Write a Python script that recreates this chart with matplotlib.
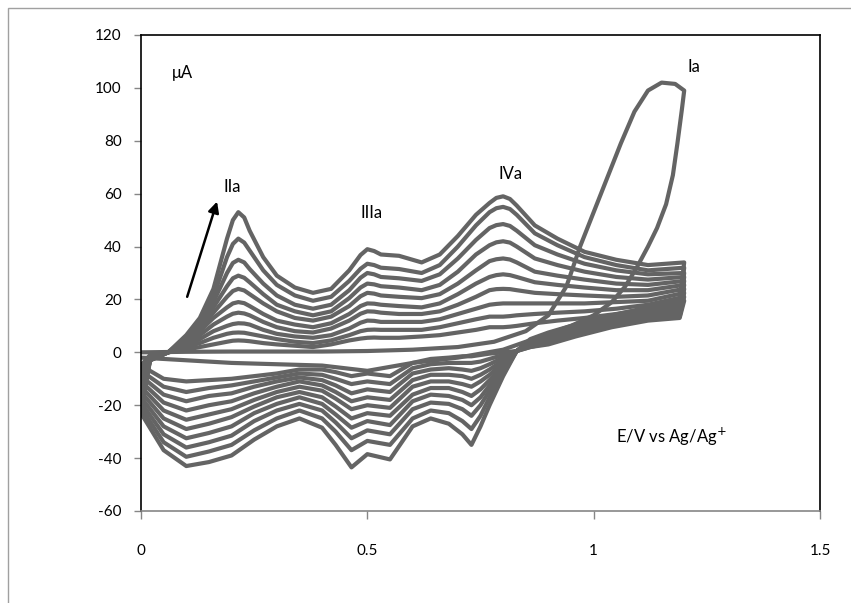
import matplotlib
matplotlib.use("Agg")
import matplotlib.pyplot as plt
from matplotlib.patches import Rectangle

plt.rcParams['font.family'] = ['Lato', 'DejaVu Sans']
plt.rcParams['axes.unicode_minus'] = False

# ---------------- data ----------------
# potential grid of the anodic (forward) scans, V
E_anodic = [0.00, 0.02, 0.06, 0.10, 0.13, 0.16, 0.19, 0.203, 0.215, 0.228, 0.24,
            0.27, 0.30, 0.34, 0.38, 0.42, 0.46, 0.485, 0.50, 0.515, 0.53, 0.57,
            0.62, 0.66, 0.70, 0.74, 0.77, 0.785, 0.80, 0.815, 0.83, 0.87, 0.92,
            0.98, 1.05, 1.12, 1.20]
# potential grid of the cathodic (reverse) scans, V
E_cathodic = [1.20, 1.19, 1.12, 1.04, 0.96, 0.90, 0.86, 0.83, 0.80, 0.77, 0.75,
              0.73, 0.71, 0.68, 0.64, 0.60, 0.55, 0.50, 0.465, 0.43, 0.40, 0.35,
              0.30, 0.25, 0.20, 0.15, 0.10, 0.05, 0.00]

# anodic currents (uA), smallest cycle first
anodic_c2 = [-5, -1, 0, 1, 2, 3, 4, 4.4, 4.5, 4.4, 4.2, 3.5, 3, 2.5, 2, 3, 4.5, 5.2, 5.5, 5.6, 5.5, 5.5, 6, 6.5, 7.5, 8.5, 9.5, 9.5, 9.5, 9.7, 10, 11, 12, 13, 14.5, 16.5, 19.5]
anodic_c3 = [-7, -1.5, 0, 2, 3.5, 5.5, 7, 7.4, 7.5, 7.4, 7, 6, 5, 4, 3.5, 4.5, 6.5, 8, 8.5, 8.6, 8.5, 8.5, 8.5, 9.5, 11, 12.5, 13.5, 13.5, 13.5, 13.7, 14, 14.5, 15, 15.5, 16.5, 18, 21]
anodic_c4 = [-9, -2, 0, 2.5, 5, 8, 10, 10.7, 11, 10.9, 10.5, 8.5, 7, 6, 5.5, 6.5, 9, 11.2, 12, 11.9, 11.5, 11.5, 11.5, 12.5, 14.5, 16.5, 18, 18.3, 18.5, 18.5, 18.5, 18.5, 18.5, 18.5, 19, 19.5, 22.5]
anodic_c5 = [-11, -2, 0, 3, 6.5, 10.5, 13.5, 14.6, 15, 14.7, 14, 11.5, 9.5, 8, 7.5, 9, 12, 14.6, 15.5, 15.4, 15, 14.5, 14.5, 15.5, 18, 21, 23.5, 23.9, 24, 23.9, 23.5, 22.5, 22, 21.5, 21, 21.5, 24]
anodic_c6 = [-13, -2.5, 0, 3.5, 8, 13, 17, 18.5, 19, 18.6, 17.5, 14.5, 12, 10.5, 9.5, 11, 14.5, 17.5, 18.5, 18.4, 18, 17.5, 17, 18.5, 22, 26, 28.5, 29.2, 29.5, 29.2, 28.5, 26.5, 25.5, 24.5, 23.5, 23.5, 25.5]
anodic_c7 = [-15, -2.5, 0, 4, 9, 15, 21, 23.2, 24, 23.4, 22, 18.5, 15.5, 13, 12, 13.5, 17.5, 21.2, 22.5, 22.2, 21.5, 21, 20.5, 22, 26, 31, 34.5, 35.2, 35.5, 35.1, 34, 30.5, 29, 27.5, 26, 25.5, 27]
anodic_c8 = [-17, -3, 0, 4.5, 10, 17, 25, 28, 29, 28.2, 26.5, 22, 18, 15.5, 14, 15.5, 20.5, 24.5, 26, 25.7, 25, 24.5, 23.5, 25.5, 30.5, 37, 40.5, 41.6, 42, 41.5, 40, 35.5, 33, 30.5, 28.5, 27.5, 28.5]
anodic_c9 = [-19, -3, 0, 5, 11, 19, 30, 33.8, 35, 34, 31.5, 26, 21.5, 18, 16.5, 18, 23.5, 28.2, 30, 29.5, 28.5, 28, 27, 29.5, 35.5, 42.5, 47, 48.1, 48.5, 47.8, 46, 40.5, 37, 33.5, 31, 29.5, 30]
anodic_c10 = [-21, -3, 0, 5.5, 12, 21, 36, 41, 43, 41.5, 38.5, 31, 25.5, 21.5, 19.5, 21, 27, 31.6, 33.5, 33, 32, 31.5, 30, 33, 40, 48, 53, 54.5, 55, 54.2, 52, 45, 40.5, 36, 33, 31, 32]
anodic_c11 = [-23, -3, 0, 6.5, 13, 24, 43, 50, 53, 51, 46, 36, 29, 24.5, 22.5, 24, 31, 36.8, 39, 38.3, 37, 36.5, 34, 37, 44, 52, 56.5, 58.4, 59, 58, 55.5, 48, 43, 38, 35, 33, 34]

# cathodic currents (uA), smallest cycle first
cathodic_c2 = [19.5, 13, 12, 9.5, 6, 3, 2, 0.5, 0, -0.5, -1, -1.5, -1.5, -2, -2.5, -4, -9, -8, -9, -7.5, -6.5, -6.5, -8, -9, -10, -10.5, -11, -10, -5]
cathodic_c3 = [21, 13.5, 12.5, 10, 6.5, 3.5, 2, 0.5, -1, -2.5, -3.5, -4, -4, -4, -4.5, -6, -12, -11, -12, -10, -8.5, -8, -9.5, -11, -12.5, -13.5, -15, -13, -7]
cathodic_c4 = [22.5, 14, 13, 10.5, 7, 4, 2.5, 0.5, -2, -4.5, -6, -7, -6.5, -6, -6.5, -8, -15, -14, -15.5, -12.5, -10.5, -9.5, -11, -13, -15.5, -16.5, -18.5, -16, -9]
cathodic_c5 = [24, 14.5, 13.5, 11, 7.5, 4.5, 3, 0.5, -3, -6.5, -8.5, -10, -9, -8.5, -8.5, -10.5, -18, -17, -18.5, -15, -12.5, -11, -13, -15.5, -18.5, -20, -22, -19, -11]
cathodic_c6 = [25.5, 15, 14, 11.5, 8, 5, 3, 0.5, -4, -8.5, -11, -13, -12, -11, -11, -13, -21, -20, -21.5, -17.5, -14.5, -13, -15, -18, -21.5, -23.5, -25.5, -22, -13]
cathodic_c7 = [27, 16, 14.5, 12, 8.5, 5.5, 3.5, 0.5, -5, -10.5, -14, -16.5, -15, -13.5, -13.5, -16, -24, -23, -25, -20.5, -17, -15, -17, -20.5, -24.5, -27, -29, -25, -15]
cathodic_c8 = [28.5, 17, 15, 12.5, 9, 6, 4, 0.5, -6, -12.5, -17, -20, -18, -16.5, -16, -18.5, -27.5, -26, -28.5, -23.5, -19.5, -17, -19.5, -23, -28, -30.5, -32.5, -28, -17]
cathodic_c9 = [30, 18, 15.5, 13, 9.5, 6.5, 4, 0.5, -7, -14.5, -20, -24, -21.5, -19.5, -19, -21.5, -31, -29.5, -32.5, -26.5, -22, -19.5, -22, -26, -31.5, -34, -36, -31, -19]
cathodic_c10 = [32, 19, 16, 13.5, 10, 7, 4.5, 0.5, -8, -17, -24, -29, -26, -23, -22, -25, -35, -33.5, -37, -30, -25, -22, -25, -29.5, -35, -37.5, -39.5, -34, -21]
cathodic_c11 = [34, 20, 17, 14, 10.5, 7.5, 5, 0.5, -9, -20, -28, -35, -31, -27, -25, -28, -40.5, -38.5, -43.5, -35, -28.5, -25, -28, -33, -39, -41.5, -43, -37, -23]

# first scan (peak Ia)
E_first_anodic = [0.0, 0.1, 0.2, 0.3, 0.4, 0.5, 0.6, 0.7, 0.78, 0.85, 0.9, 0.94, 0.97,
                  1.0, 1.03, 1.06, 1.09, 1.12, 1.15, 1.18, 1.2]
I_first_anodic = [0, 0.2, 0.3, 0.3, 0.3, 0.5, 1, 2, 4, 8, 14, 25, 40,
                  53, 66, 79, 91, 99, 102, 101.5, 99]
E_first_cathodic = [1.2, 1.195, 1.185, 1.175, 1.16, 1.14, 1.12, 1.095, 1.07, 1.04, 1.0,
                    0.95, 0.9, 0.85, 0.8, 0.7, 0.6, 0.5, 0.4, 0.3, 0.2, 0.1, 0.0]
I_first_cathodic = [99, 92, 79, 67, 56, 47, 40, 32, 25, 19, 14,
                    10, 7, 4, 1, -2, -4, -7, -5, -4.5, -4, -3, -2]

anodic_scans = [anodic_c2, anodic_c3, anodic_c4, anodic_c5, anodic_c6,
                anodic_c7, anodic_c8, anodic_c9, anodic_c10, anodic_c11]
cathodic_scans = [cathodic_c2, cathodic_c3, cathodic_c4, cathodic_c5, cathodic_c6,
                  cathodic_c7, cathodic_c8, cathodic_c9, cathodic_c10, cathodic_c11]

x_ticks = [0, 0.5, 1, 1.5]
x_tick_labels = ["0", "0.5", "1", "1.5"]
y_ticks = [-60, -40, -20, 0, 20, 40, 60, 80, 100, 120]

# ---------------- figure ----------------
W, H = 851, 603
fig = plt.figure(figsize=(W / 100, H / 100), dpi=100)
fig.patch.set_facecolor('white')

# outer chart border (only top / left visible)
fig.patches.append(Rectangle((8 / W, -0.1), 1.2, 1 - 8 / H + 0.1, transform=fig.transFigure,
                             fill=False, edgecolor='#a0a0a0', linewidth=1.0, zorder=0))

ax = fig.add_axes([141 / W, 1 - 511 / H, (820 - 141) / W, (511 - 35) / H])

line_color = '#646464'
lw = 3.0
for an, ca in zip(anodic_scans, cathodic_scans):
    ax.plot(E_anodic + E_cathodic, an + ca, color=line_color, lw=lw,
            solid_joinstyle='round', solid_capstyle='round')
ax.plot(E_first_anodic + E_first_cathodic, I_first_anodic + I_first_cathodic,
        color=line_color, lw=lw, solid_joinstyle='round', solid_capstyle='round')

ax.set_xlim(0, 1.5)
ax.set_ylim(-60, 120)
ax.set_xticks(x_ticks)
ax.set_xticklabels(x_tick_labels)
ax.set_yticks(y_ticks)

for s in ['left', 'top', 'right']:
    ax.spines[s].set_color('#000000')
    ax.spines[s].set_linewidth(1.2)
ax.spines['bottom'].set_color('#868686')
ax.spines['bottom'].set_linewidth(1.2)

ax.tick_params(axis='y', direction='out', length=5, width=1, color='#868686',
               pad=9, labelsize=11, labelcolor='#000000')
ax.tick_params(axis='x', direction='out', length=6, width=1, color='#868686',
               pad=18, labelsize=11, labelcolor='#000000')

# arrow
ax.annotate('', xy=(0.168, 57), xytext=(0.102, 21),
            arrowprops=dict(arrowstyle='-|>', color='black', lw=1.8,
                            mutation_scale=16, shrinkA=0, shrinkB=0))

fs = 12
ax.text(0.068, 105.5, 'μA', fontsize=fs, va='center', ha='left')
ax.text(1.208, 108, 'Ia', fontsize=fs, va='center', ha='left')
ax.text(0.183, 62.5, 'IIa', fontsize=fs, va='center', ha='left')
ax.text(0.484, 52.5, 'IIIa', fontsize=fs, va='center', ha='left')
ax.text(0.789, 67.5, 'IVa', fontsize=fs, va='center', ha='left')
ax.text(1.05, -32, 'E/V vs Ag/Ag$^{+}$', fontsize=fs, va='center', ha='left')

fig.savefig('out.png', dpi=100, facecolor='white')
